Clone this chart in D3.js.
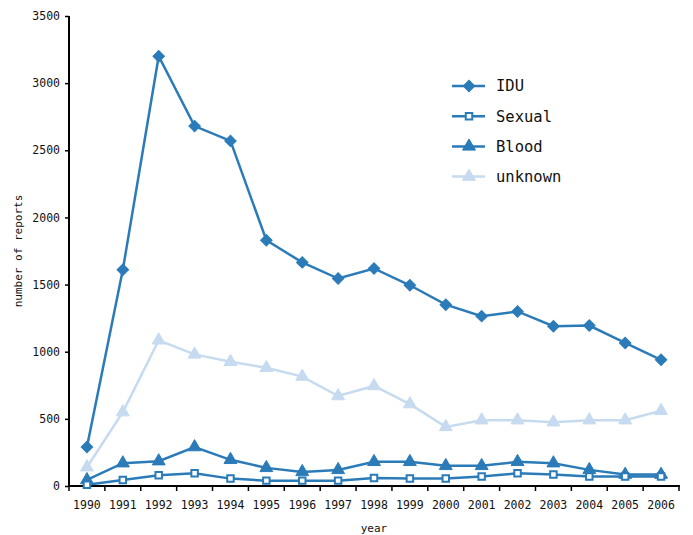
<!DOCTYPE html>
<html>
<head>
<meta charset="utf-8">
<script src="https://cdn.jsdelivr.net/npm/d3@7"></script>
<style>
  body { margin: 0; background: #fff; }
  text { font-family: "DejaVu Sans Mono", monospace; fill: #111; }
</style>
</head>
<body>
<svg id="chart" width="693" height="535"></svg>
<script>
// Reports per year by transmission route
const years = ["1990","1991","1992","1993","1994","1995","1996","1997","1998","1999","2000","2001","2002","2003","2004","2005","2006"];
const idu     = [290, 1610, 3200, 2680, 2570, 1830, 1665, 1545, 1620, 1495, 1350, 1265, 1300, 1190, 1195, 1065, 940];
const sexual  = [10, 45, 80, 95, 55, 40, 40, 40, 60, 55, 55, 70, 95, 85, 70, 70, 70];
const blood   = [45, 170, 185, 290, 195, 135, 105, 120, 180, 180, 150, 150, 180, 170, 120, 85, 85];
const unknown = [140, 550, 1085, 980, 925, 880, 815, 670, 745, 610, 440, 490, 490, 475, 490, 490, 560];
const yTicks  = [0, 500, 1000, 1500, 2000, 2500, 3000, 3500];

const dark = "#2b7bb9", light = "#c6dbef";
// diamonds are squares turned by 45 degrees
const series = [
  { name: "IDU",     values: idu,     color: dark,  symbol: d3.symbolSquare,   size: 66, rot: 45, fill: dark },
  { name: "Sexual",  values: sexual,  color: dark,  symbol: d3.symbolSquare,   size: 42, rot: 0,  fill: "#fff" },
  { name: "Blood",   values: blood,   color: dark,  symbol: d3.symbolTriangle, size: 72, rot: 0,  fill: dark },
  { name: "unknown", values: unknown, color: light, symbol: d3.symbolTriangle, size: 72, rot: 0,  fill: light }
];

const svg = d3.select("#chart");
const plotL = 69, plotR = 679, plotT = 16, plotB = 486;

const x = d3.scaleBand().domain(years).range([plotL, plotR]);
const y = d3.scaleLinear().domain([0, 3500]).range([plotB, plotT]);

// x axis: ticks on band edges, labels centred in bands
const xg = svg.append("g");
xg.append("line").attr("x1", plotL).attr("x2", plotR + 1).attr("y1", plotB).attr("y2", plotB)
  .attr("stroke", "#000").attr("stroke-width", 2);
const edges = years.map(d => x(d)).concat([plotR]);
xg.selectAll("line.tk").data(edges).join("line").attr("class", "tk")
  .attr("x1", d => d).attr("x2", d => d).attr("y1", plotB).attr("y2", plotB + 5)
  .attr("stroke", "#000").attr("stroke-width", 1.5);
xg.selectAll("text").data(years).join("text")
  .attr("x", d => x(d) + x.bandwidth() / 2).attr("y", plotB + 23)
  .attr("text-anchor", "middle").attr("font-size", 11.5).text(d => d);

// y axis
const yAxis = d3.axisLeft(y).tickValues(yTicks).tickSize(4).tickPadding(5).tickFormat(d3.format("d"));
const yg = svg.append("g").attr("transform", `translate(${plotL},0)`).call(yAxis);
yg.select(".domain").attr("stroke-width", 2).attr("d", `M0,${plotB + 1}V${plotT}`);
yg.selectAll(".tick line").attr("stroke-width", 1.5);
yg.selectAll(".tick text").attr("font-size", 11.5).attr("font-family", "DejaVu Sans Mono, monospace").attr("fill", "#111");

// axis titles
svg.append("text").attr("x", x("1998") + x.bandwidth() / 2).attr("y", 532)
  .attr("text-anchor", "middle").attr("font-size", 11).text("year");
svg.append("text").attr("transform", `translate(22,251) rotate(-90)`)
  .attr("text-anchor", "middle").attr("font-size", 11).text("number of reports");

const marker = s => d3.symbol(s.symbol, s.size);
const strokeW = s => s.fill === "#fff" ? 2 : 1;

// lines and markers; light series drawn underneath
const cx = (d, i) => x(years[i]) + x.bandwidth() / 2;
const line = d3.line().x(cx).y(d => y(d));
const order = [series[3], series[2], series[1], series[0]];
order.forEach(s => {
  const g = svg.append("g");
  g.append("path").datum(s.values).attr("d", line)
    .attr("fill", "none").attr("stroke", s.color).attr("stroke-width", 2.5);
  g.selectAll("path.m").data(s.values).join("path").attr("class", "m")
    .attr("d", marker(s))
    .attr("transform", (d, i) => `translate(${cx(d, i)},${y(d)}) rotate(${s.rot})`)
    .attr("fill", s.fill).attr("stroke", s.color).attr("stroke-width", strokeW(s));
});

// legend
const lg = svg.append("g").attr("transform", "translate(452,86)");
series.forEach((s, i) => {
  const row = lg.append("g").attr("transform", `translate(0,${i * 30.2})`);
  row.append("line").attr("x1", 0).attr("x2", 33).attr("y1", 0).attr("y2", 0)
    .attr("stroke", s.color).attr("stroke-width", 2.5);
  row.append("path").attr("d", marker(s)).attr("transform", `translate(17,0) rotate(${s.rot})`)
    .attr("fill", s.fill).attr("stroke", s.color).attr("stroke-width", strokeW(s));
  row.append("text").attr("x", 44).attr("y", 0).attr("dy", "0.35em")
    .attr("font-size", 15.5).text(s.name);
});
</script>
</body>
</html>
